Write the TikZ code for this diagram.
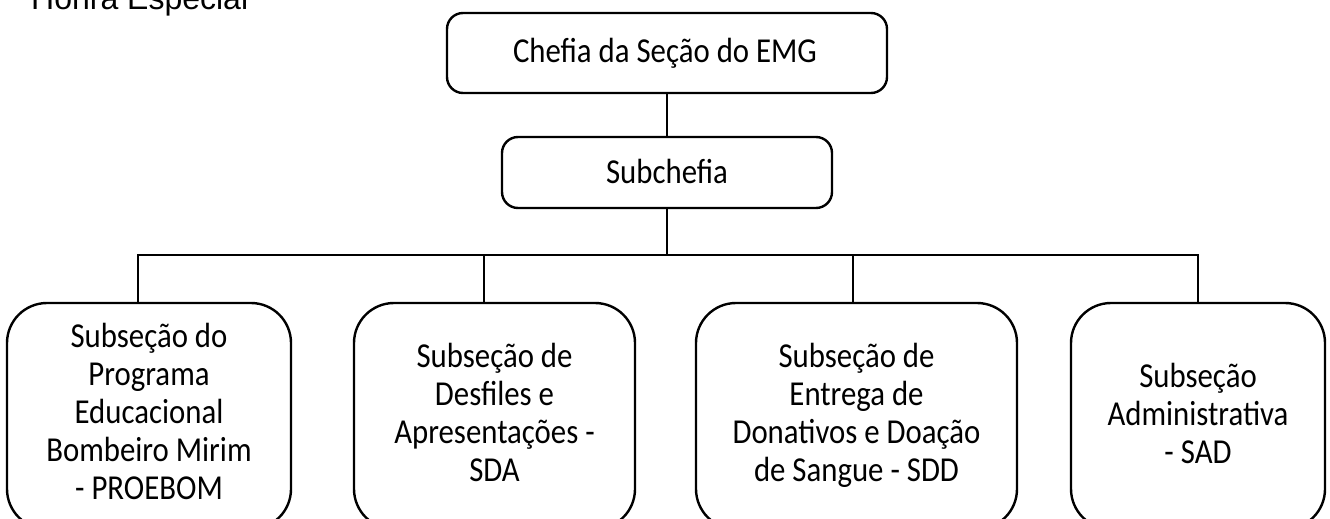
\documentclass[tikz,border=0pt]{standalone}
\usepackage{fontspec}
\newfontfamily\boxfont[FakeStretch=0.88]{Carlito}
\newfontfamily\titlefont{Liberation Sans}
\begin{document}
\begin{tikzpicture}[x=1pt,y=-1pt,
  box/.style={draw, line width=2.4pt, inner sep=0pt},
  topbox/.style={box, rounded corners=16pt},
  lowbox/.style={box, rounded corners=40pt, minimum height=226pt},
  lbl/.style={inner sep=0pt, align=center, font=\boxfont\fontsize{35}{38}\selectfont},
  conn/.style={line width=2pt}]
\useasboundingbox (0,0) rectangle (1330,519);
\clip (0,0) rectangle (1330,519);
% title
\node[inner sep=0pt, anchor=base west, font=\titlefont\fontsize{32}{36}\selectfont] (title) at (31,10) {Honra Especial};
% boxes
\node[topbox, minimum width=440pt, minimum height=80pt] (top) at (667,53) {};
\node[topbox, minimum width=330pt, minimum height=71pt] (sub) at (667,172.5) {};
\node[lowbox, minimum width=284pt] (b1) at (149,416) {};
\node[lowbox, minimum width=281pt] (b2) at (494.5,416) {};
\node[lowbox, minimum width=321pt] (b3) at (856.5,416) {};
\node[lowbox, minimum width=254pt] (b4) at (1198,416) {};
% texts
\node[lbl, anchor=base] (ttop) at (665,63) {Chefia da Seção do EMG};
\node[lbl, anchor=base] (tsub) at (667,183) {Subchefia};
\node[lbl, anchor=north] (t1) at (149,322) {\rule{0pt}{25pt}Subseção do\\Programa\\Educacional\\Bombeiro Mirim\\- PROEBOM};
\node[lbl, anchor=north] (t2) at (494.5,342) {\rule{0pt}{25pt}Subseção de\\Desfiles e\\Apresentações -\\SDA};
\node[lbl, anchor=north] (t3) at (856.5,342) {\rule{0pt}{25pt}Subseção de\\Entrega de\\Donativos e Doação\\de Sangue - SDD};
\node[lbl, anchor=north] (t4) at (1198,362) {\rule{0pt}{25pt}Subseção\\Administrativa\\- SAD};
% connectors
\coordinate (bus) at (666,255);
\coordinate (d1) at (138,255);
\coordinate (d2) at (484,255);
\coordinate (d3) at (853,255);
\coordinate (d4) at (1198,255);
\draw[conn] (top.south) -- (sub.north);
\draw[conn] (sub.south) -- (sub.south |- bus);
\draw[conn] (d1 |- b1.north) -- (d1) -- (d4) -- (d4 |- b4.north);
\draw[conn] (d2) -- (d2 |- b2.north);
\draw[conn] (d3) -- (d3 |- b3.north);
\end{tikzpicture}
\end{document}
